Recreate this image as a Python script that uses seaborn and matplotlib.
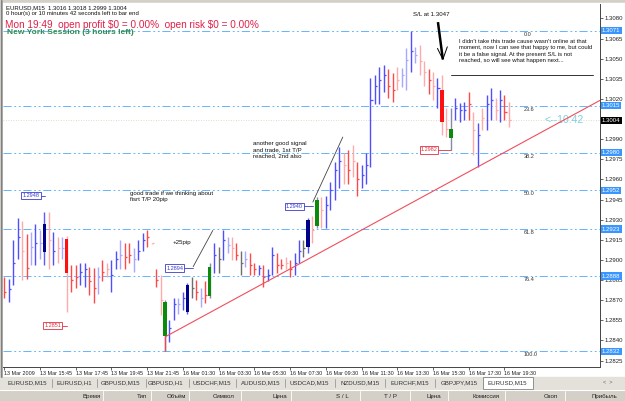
import numpy as np
import pandas as pd
import matplotlib
matplotlib.use("Agg")
import matplotlib.pyplot as plt
from matplotlib.patches import Rectangle
import seaborn as sns

sns.set_style("white")
plt.rcParams['font.family'] = ['Liberation Sans', 'DejaVu Sans']

# ---- data (EURUSD M15, 114 bars) ----
time_labels = ["13 Mar 2009", "13 Mar 15:45", "13 Mar 17:45", "13 Mar 19:45", "13 Mar 21:45",
               "16 Mar 01:30", "16 Mar 03:30", "16 Mar 05:30", "16 Mar 07:30", "16 Mar 09:30",
               "16 Mar 11:30", "16 Mar 13:30", "16 Mar 15:30", "16 Mar 17:30", "16 Mar 19:30"]

highs = [1.2887, 1.2886, 1.2915, 1.2931, 1.2929, 1.2919, 1.2921, 1.2927, 1.2922, 1.2936,
         1.2936, 1.2921, 1.2917, 1.2917, 1.2918, 1.2896, 1.2896, 1.2898, 1.2898, 1.2895,
         1.2894, 1.2895, 1.2900, 1.2898, 1.2900, 1.2907, 1.2915, 1.2913, 1.2913, 1.2909,
         1.2915, 1.2920, 1.2922, 1.2913, 1.2893, 1.2889, 1.2870, 1.2855, 1.2872, 1.2872,
         1.2876, 1.2883, 1.2887, 1.2885, 1.2879, 1.2884, 1.2898, 1.2913, 1.2910, 1.2922,
         1.2917, 1.2917, 1.2913, 1.2907, 1.2907, 1.2905, 1.2898, 1.2896, 1.2896, 1.2893,
         1.2910, 1.2905, 1.2901, 1.2902, 1.2900, 1.2905, 1.2915, 1.2915, 1.2931, 1.2933,
         1.2947, 1.2947, 1.2948, 1.2958, 1.2973, 1.2984, 1.2980, 1.2982, 1.2986, 1.2973,
         1.2971, 1.2980, 1.3036, 1.3038, 1.3044, 1.3045, 1.3042, 1.3039, 1.3044, 1.3043,
         1.3058, 1.3071, 1.3059, 1.3060, 1.3048, 1.3042, 1.3040, 1.3036, 1.3038, 1.3013,
         1.3013, 1.3021, 1.3017, 1.3018, 1.3025, 1.3010, 1.3002, 1.3013, 1.3023, 1.3028,
         1.3021, 1.3027, 1.3023, 1.3018]
lows = [1.2872, 1.2869, 1.2881, 1.2901, 1.2885, 1.2886, 1.2896, 1.2896, 1.2901, 1.2896,
        1.2893, 1.2896, 1.2898, 1.2901, 1.2861, 1.2876, 1.2879, 1.2881, 1.2880, 1.2874,
        1.2868, 1.2875, 1.2884, 1.2887, 1.2876, 1.2893, 1.2893, 1.2893, 1.2898, 1.2891,
        1.2900, 1.2907, 1.2910, 1.2912, 1.2880, 1.2859, 1.2832, 1.2839, 1.2855, 1.2860,
        1.2863, 1.2860, 1.2872, 1.2870, 1.2865, 1.2868, 1.2872, 1.2890, 1.2890, 1.2900,
        1.2905, 1.2900, 1.2900, 1.2889, 1.2895, 1.2889, 1.2889, 1.2889, 1.2880, 1.2884,
        1.2889, 1.2890, 1.2893, 1.2893, 1.2887, 1.2889, 1.2898, 1.2902, 1.2905, 1.2913,
        1.2924, 1.2924, 1.2924, 1.2937, 1.2945, 1.2954, 1.2957, 1.2957, 1.2962, 1.2948,
        1.2954, 1.2957, 1.2969, 1.3016, 1.3016, 1.3025, 1.3021, 1.3018, 1.3027, 1.3029,
        1.3027, 1.3040, 1.3047, 1.3038, 1.3030, 1.3024, 1.3019, 1.3013, 1.2993, 1.2992,
        1.2982, 1.3004, 1.3003, 1.3004, 1.3004, 1.2978, 1.2969, 1.2997, 1.2997, 1.3004,
        1.3004, 1.3003, 1.3004, 1.2999]
closes = [1.2876, 1.2878, 1.2898, 1.2917, 1.2907, 1.2894, 1.2910, 1.2913, 1.2913, 1.2927,
          1.2915, 1.2907, 1.2909, 1.2909, 1.2890, 1.2885, 1.2887, 1.2891, 1.2893, 1.2884,
          1.2879, 1.2887, 1.2891, 1.2893, 1.2889, 1.2901, 1.2904, 1.2902, 1.2904, 1.2901,
          1.2907, 1.2915, 1.2917, 1.2913, 1.2885, 1.2870, 1.2869, 1.2849, 1.2867, 1.2867,
          1.2872, 1.2881, 1.2879, 1.2876, 1.2872, 1.2874, 1.2895, 1.2904, 1.2901, 1.2915,
          1.2911, 1.2909, 1.2904, 1.2898, 1.2901, 1.2896, 1.2893, 1.2894, 1.2887, 1.2889,
          1.2904, 1.2896, 1.2896, 1.2898, 1.2893, 1.2898, 1.2907, 1.2909, 1.2930, 1.2922,
          1.2945, 1.2937, 1.2941, 1.2952, 1.2967, 1.2974, 1.2971, 1.2967, 1.2974, 1.2960,
          1.2963, 1.2971, 1.3019, 1.3030, 1.3034, 1.3038, 1.3030, 1.3027, 1.3034, 1.3038,
          1.3049, 1.3056, 1.3053, 1.3048, 1.3040, 1.3034, 1.3030, 1.3028, 1.3003, 1.2998,
          1.2998, 1.3013, 1.3012, 1.3012, 1.3016, 1.2997, 1.2993, 1.3006, 1.3016, 1.3019,
          1.3012, 1.3019, 1.3010, 1.3004]
kinds = ("r b b b p r lb b lb N "
         "p b p lb R r r b b r "
         "r lb r p b b lb r r lb "
         "b b r p r p G b b lb "
         "b N k r lb r G b k b "
         "lb p r k lb r r b r b "
         "b r r p r b b k N p "
         "G p b b b b p r p r "
         "b b b b b b r r p lb "
         "lb b lb p p r p b R p "
         "G b b b r p b p b b "
         "p b r p").split()

candle_idx = [9, 14, 36, 41, 46, 68, 70, 98, 100]
candle_open = [1.2906, 1.2916, 1.2843, 1.2861, 1.2873, 1.2910, 1.2925, 1.3027, 1.2991]

fib_names = ["0.0", "23.6", "38.2", "50.0", "61.8", "76.4", "100.0"]
fib_prices = [1.3071, 1.3015, 1.2980, 1.2952, 1.2923, 1.2888, 1.2832]
price_ticks = [1.3080, 1.3065, 1.3050, 1.3035, 1.3020, 1.2990, 1.2975, 1.2960, 1.2945,
               1.2930, 1.2915, 1.2900, 1.2885, 1.2870, 1.2855, 1.2840, 1.2825]
last_price = 1.3004

trend_x = [36.2, 133.4]
trend_p = [1.2843, 1.3019]

bar_colors = {"b": "#4f4fff", "lb": "#a8a8ff", "r": "#ff4848", "p": "#ffaaaa", "k": "#6e6e6e",
              "N": "#5a5aff", "G": "#8888aa", "R": "#ffaaaa"}
body_colors = {"N": "#000088", "G": "#0b8a0b", "R": "#ff1010"}

df = pd.DataFrame({"idx": np.arange(len(highs)), "high": highs, "low": lows,
                   "close": closes, "kind": kinds})

W, H = 625, 401
fig = plt.figure(figsize=(W / 100, H / 100), dpi=100)

# window chrome (pixel coordinates)
bg = fig.add_axes([0, 0, 1, 1], zorder=0)
bg.set_xlim(0, W); bg.set_ylim(H, 0); bg.axis("off")
bg.add_patch(Rectangle((0, 0), W, H, color="#d4d0c8"))
bg.add_patch(Rectangle((3, 3), W - 3, 374, color="white"))
bg.add_patch(Rectangle((0, 377), W, 12, color="#e4e1da"))
bg.add_patch(Rectangle((483, 377), 50, 12, color="white", ec="#808080", lw=0.6))
bg.plot([0.5, 0.5], [0, 377], color="#808080", lw=0.8)
bg.plot([2, 2], [0, 377], color="#a0a0a0", lw=0.6)
bg.plot([0, W], [389.5, 389.5], color="#ffffff", lw=0.8)
tabs = ["EURUSD,M15", "EURUSD,H1", "GBPUSD,M15", "GBPUSD,H1", "USDCHF,M15", "AUDUSD,M15",
        "USDCAD,M15", "NZDUSD,M15", "EURCHF,M15", "GBPJPY,M15", "EURUSD,M15"]
tab_x = [27, 74, 121, 166, 212, 261, 309, 360, 410, 459, 507]
for t, x in zip(tabs, tab_x):
    bg.text(x, 383, t, fontsize=4.4, ha="center", va="center", color="#333333")
for x in [52, 97, 146, 189, 236, 285, 335, 385, 435]:
    bg.plot([x, x], [379, 387], color="#999999", lw=0.6)
bg.text(608, 383, "<  >", fontsize=4, ha="center", va="center", color="#666666")
heads = ["Время", "Тип", "Объём", "Символ", "Цена", "S / L", "T / P", "Цена", "Комиссия", "Своп", "Прибыль"]
head_x = [92, 142, 176, 224, 280, 342, 390, 434, 486, 551, 604]
for t, x in zip(heads, head_x):
    bg.text(x, 396.5, t, fontsize=4.4, ha="center", va="center", color="#222222")
for x in [103, 151, 189, 241, 291, 360, 410, 448, 505, 565]:
    bg.plot([x, x], [391, 401], color="#ffffff", lw=0.6)

# price chart: bar i sits at pixel x = 4.2 + 4.467*i, price scale 13.42 px per 10 pips
ax = fig.add_axes([3 / W, 1 - 366.5 / H, 597 / W, 362.5 / H], zorder=1)
ax.set_facecolor("white")
ax.set_xlim(-0.27, 133.38)
ax.set_ylim(1.28206, 1.30908)

for p in fib_prices:
    ax.axhline(p, color="#5aaeff", lw=0.65, ls=(0, (9, 3, 2, 3, 2, 3)), zorder=1)
ax.axhline(last_price, color="#d8d0b8", lw=0.6, ls=(0, (1, 2)), zorder=1)

for kind, grp in df.groupby("kind"):
    ax.vlines(grp["idx"], grp["low"], grp["high"], colors=bar_colors[kind], lw=1.0, zorder=2)
    plain = grp[~grp["kind"].isin(["N", "G", "R"])]
    ax.hlines(plain["close"], plain["idx"], plain["idx"] + 0.45, colors=bar_colors[kind], lw=0.9, zorder=2)

for i, o in zip(candle_idx, candle_open):
    c = closes[i]
    ax.bar(i, abs(c - o), bottom=min(c, o), width=0.75, color=body_colors[kinds[i]], lw=0, zorder=3)
# fib anchor below the first green candle
ax.vlines(candle_idx[2], lows[36], candle_open[2], colors="#e84a55", lw=1.0, zorder=3)

sns.lineplot(x=trend_x, y=trend_p, ax=ax, color="#f04e5c", lw=0.8, zorder=4)

for name, p in zip(fib_names, fib_prices):
    ax.text(116.3, p - 0.00008, name, fontsize=4, va="top", ha="left", color="#333333")

# axis ticks
ax.yaxis.tick_right()
ax.set_yticks(price_ticks)
ax.set_yticklabels([f"{p:.4f}" for p in price_ticks], fontsize=4.3, color="#222222")
ax.tick_params(axis="y", length=2, width=0.5, pad=1.5, right=True)
ax.set_xticks(np.arange(0, 113, 8))
ax.set_xticklabels(time_labels, fontsize=3.9, ha="left", color="#222222")
ax.tick_params(axis="x", length=2.5, width=0.5, pad=0.8, bottom=True)
for s in ["top", "left"]:
    ax.spines[s].set_visible(False)
for s in ["right", "bottom"]:
    ax.spines[s].set_color("#444444")
    ax.spines[s].set_linewidth(0.7)
ax.grid(False)

for p in fib_prices:
    ax.annotate(f"{p:.4f}", xy=(1, p), xycoords=("axes fraction", "data"), xytext=(1.3, 0),
                textcoords="offset points", ha="left", va="center", fontsize=4.3, color="white",
                bbox=dict(boxstyle="square,pad=0.2", fc="#3a96ff", ec="none"), annotation_clip=False)
ax.annotate(f"{last_price:.4f}", xy=(1, last_price), xycoords=("axes fraction", "data"), xytext=(1.3, 0),
            textcoords="offset points", ha="left", va="center", fontsize=4.3, color="white",
            bbox=dict(boxstyle="square,pad=0.2", fc="black", ec="none"), annotation_clip=False)

# price marker labels on the chart
labels = [("1.2948", 6.0, 1.2948, 9.1, "#3a3acc"), ("1.2851", 10.9, 1.2851, 14.1, "#e03040"),
          ("1.2894", 38.2, 1.2894, 42.3, "#3a3acc"), ("1.2940", 65.0, 1.2940, 69.1, "#3a3acc"),
          ("1.2982", 95.1, 1.2982, 100.0, "#e03040")]
for txt, xi, p, xe, col in labels:
    ax.plot([xi + 1.6, xe], [p, p], color=col, lw=0.6, zorder=4)
    ax.text(xi, p, txt, fontsize=4, ha="center", va="center", color=col, zorder=5,
            bbox=dict(boxstyle="square,pad=0.2", fc="white", ec=col, lw=0.6))

# comments drawn on the chart
ax.text(28.2, 1.29514, "good trade if we thinking about\nfisrt T/P 20pip", fontsize=4.4,
        va="top", ha="left", color="#111111", linespacing=1.3)
ax.text(37.6, 1.2913, "+25pip", fontsize=4.4, va="center", ha="left", color="#111111")
ax.plot([42.3, 46.7], [1.2895, 1.2922], color="#444444", lw=0.6)
ax.text(55.7, 1.29886, "another good signal\nand trade, 1st T/P\nreached, 2nd also", fontsize=4.4,
        va="top", ha="left", color="#111111", linespacing=1.3)
ax.plot([69.1, 75.8], [1.29432, 1.29916], color="#444444", lw=0.6)
ax.text(91.5, 1.30829, "S/L at 1.3047", fontsize=4.4, va="center", ha="left", color="#111111")
ax.plot([97.1, 98.2], [1.30773, 1.30495], color="black", lw=1.8, solid_capstyle="butt")
ax.plot([97.0, 98.2, 99.2], [1.30577, 1.30495, 1.30589], color="black", lw=0.7)
ax.text(101.8, 1.30647, "I didn't take this trade cause wasn't online at that\n"
        "moment, now I can see that happy to me, but could\n"
        "it be a false signal. At the present S/L is not\n"
        "reached, so will see what happen next...", fontsize=4.2, va="top", ha="left",
        color="#111111", linespacing=1.35)
ax.plot([100.0, 131.8], [1.30378, 1.30378], color="#333333", lw=0.7)
ax.text(120.9, 1.30040, "<--10:42", fontsize=7.5, va="center", ha="left", color="#7fd0dc")

# header text in the top left corner
fg = fig.add_axes([0, 0, 1, 1], zorder=3)
fg.set_xlim(0, W); fg.set_ylim(H, 0); fg.axis("off"); fg.patch.set_alpha(0)
fg.text(6, 7.5, "EURUSD,M15  1.3016 1.3018 1.2999 1.3004", fontsize=4.3, va="center", color="#111111")
fg.text(6, 14, "0 hour(s) or 10 minutes 42 seconds left to bar end", fontsize=4.3, va="center", color="#111111")
fg.text(5, 24.5, r"Mon 19:49  open profit \$0 = 0.00%  open risk \$0 = 0.00%", fontsize=7.2,
        va="center", color="#e0204a")
fg.text(7, 32.5, "New York Session (3 hours left)", fontsize=6, fontweight="bold",
        va="center", color="#2e8b57")

fig.savefig("out.png", dpi=100)
